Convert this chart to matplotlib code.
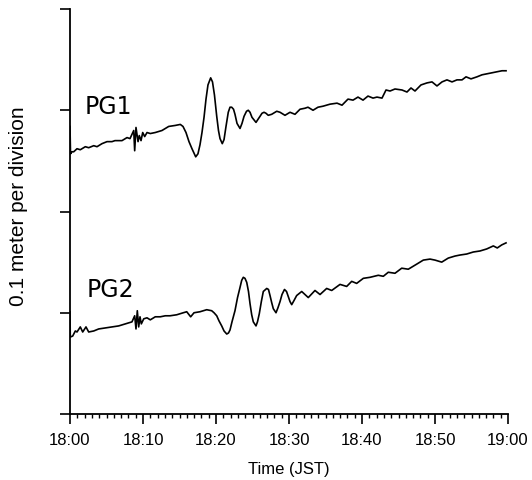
import matplotlib
matplotlib.use("Agg")
import matplotlib.pyplot as plt
from matplotlib.ticker import MultipleLocator, FixedLocator, FixedFormatter

# minutes after 18:00 JST, sea level (m, offset for display)
pg1_t = [0, 0.07, 0.27, 0.51, 0.96, 1.41, 2.10, 2.56, 3.25, 3.70, 4.38, 5.07, 5.75, 6.16,
         7.12, 7.81, 8.22, 8.73, 8.86, 9.04, 9.32, 9.49, 9.73, 9.96, 10.23, 10.55, 11.0,
         11.68, 12.60, 13.52, 14.42, 15.11, 15.48, 15.89, 16.30, 16.71, 17.22, 17.53,
         17.81, 18.08, 18.36, 18.63, 18.90, 19.27, 19.52, 19.79, 20.10, 20.34, 20.55,
         20.86, 21.10, 21.37, 21.68, 21.92, 22.15, 22.40, 22.60, 22.88, 23.29, 23.56,
         23.84, 24.18, 24.42, 24.66, 24.93, 25.48, 25.75, 26.03, 26.30, 26.58, 26.85,
         27.16, 27.63, 28.32,
         28.77, 29.45, 30.14, 30.82, 31.51, 32.19, 32.60, 33.29, 33.97, 34.66, 35.62,
         36.58, 37.26, 38.08, 38.77, 39.45, 40.14, 40.82, 41.51, 42.05, 42.74, 43.29,
         43.84, 44.52, 45.48, 46.16, 46.71, 47.26, 48.08, 48.90, 49.59, 50.27, 50.96,
         51.64, 52.33, 53.01, 53.70, 54.25, 54.93, 55.75, 56.44, 57.12, 57.81, 58.49,
         59.18, 59.73]
pg1_h = [0.284, 0.257, 0.259, 0.259, 0.262, 0.261, 0.264, 0.263, 0.265, 0.264, 0.267, 0.269,
         0.269, 0.270, 0.270, 0.273, 0.272, 0.280, 0.260, 0.283, 0.269, 0.275, 0.270, 0.278,
         0.274, 0.278, 0.277, 0.278, 0.280, 0.284, 0.285, 0.286, 0.284, 0.278, 0.269,
         0.262, 0.254, 0.257, 0.266, 0.278, 0.293, 0.311, 0.325, 0.332, 0.328, 0.315,
         0.294, 0.280, 0.272, 0.267, 0.271, 0.284, 0.298, 0.303, 0.303, 0.301, 0.296,
         0.287, 0.282, 0.287, 0.294, 0.299, 0.300, 0.298, 0.293, 0.288, 0.291, 0.294,
         0.297, 0.298, 0.297, 0.295, 0.296, 0.299,
         0.298, 0.295, 0.298, 0.296, 0.301, 0.302, 0.303, 0.300, 0.303, 0.304, 0.306, 0.307,
         0.305, 0.311, 0.310, 0.313, 0.310, 0.314, 0.312, 0.313, 0.312, 0.320, 0.319, 0.321,
         0.320, 0.318, 0.322, 0.319, 0.325, 0.327, 0.328, 0.324, 0.328, 0.330, 0.328, 0.330,
         0.330, 0.333, 0.331, 0.333, 0.335, 0.336, 0.337, 0.338, 0.339, 0.339]

pg2_t = [0, 0.04, 0.37, 0.73, 0.96, 1.41, 1.74, 2.19, 2.56, 3.25, 3.93, 4.84, 5.75, 6.67,
         7.58, 8.49, 8.86, 9.04, 9.22, 9.41, 9.59, 9.77, 10.10, 10.55, 11.0, 11.68, 12.37,
         13.05, 13.70, 14.62, 15.52, 15.99, 16.53, 16.99, 17.81, 18.73, 19.41, 19.73,
         20.10, 20.41, 20.78, 21.10, 21.47, 21.71, 21.92, 22.19, 22.60, 22.95, 23.29,
         23.52, 23.74, 23.97, 24.21, 24.45, 24.66, 24.89, 25.11, 25.48, 25.68, 25.93,
         26.21, 26.48, 26.95, 27.19, 27.40, 27.63, 27.85, 28.22, 28.49, 28.77, 29.04,
         29.38, 29.66, 29.90, 30.14, 30.37, 30.68, 31.05, 31.74, 32.64, 33.56, 34.25,
         35.16, 35.85, 36.99, 37.90, 38.59, 39.27, 40.18, 41.10, 42.23, 42.92, 43.60, 44.52,
         45.44, 46.34, 47.49, 48.40, 49.32, 50.0, 50.92, 51.82, 52.74, 53.42, 54.34, 55.25,
         56.16, 57.08, 57.99, 58.53, 59.14, 59.73]
pg2_h = [0.101, 0.076, 0.077, 0.082, 0.081, 0.086, 0.081, 0.086, 0.081, 0.082, 0.084, 0.085,
         0.086, 0.087, 0.089, 0.091, 0.097, 0.084, 0.102, 0.086, 0.096, 0.089, 0.094, 0.095,
         0.093, 0.096, 0.096, 0.097, 0.097, 0.098, 0.100, 0.101, 0.096, 0.100, 0.101, 0.103,
         0.102, 0.100, 0.097, 0.092, 0.087, 0.082, 0.079, 0.080, 0.083, 0.091, 0.102,
         0.115, 0.125, 0.132, 0.135, 0.134, 0.130, 0.121, 0.109, 0.098, 0.091, 0.087,
         0.091, 0.099, 0.111, 0.121, 0.124, 0.123, 0.117, 0.110, 0.104, 0.100, 0.105,
         0.111, 0.118, 0.123, 0.121, 0.116, 0.111, 0.108, 0.112, 0.117, 0.121,
         0.115, 0.122, 0.118, 0.124, 0.122, 0.128, 0.126, 0.131, 0.129, 0.134, 0.135, 0.137,
         0.136, 0.140, 0.139, 0.144, 0.143, 0.148, 0.152, 0.153, 0.152, 0.150, 0.154, 0.156,
         0.157, 0.158, 0.160, 0.161, 0.163, 0.166, 0.164, 0.167, 0.169]

major_ticks = [0, 10, 20, 30, 40, 50, 60]
major_labels = ["18:00", "18:10", "18:20", "18:30", "18:40", "18:50", "19:00"]
y_ticks = [0, 0.1, 0.2, 0.3, 0.4]

fig = plt.figure(figsize=(5.32, 4.81), dpi=100)
ax = fig.add_axes([70 / 532, 1 - 415 / 481, 438 / 532, 405 / 481])

ax.plot(pg1_t, pg1_h, color="black", lw=1.2)
ax.plot(pg2_t, pg2_h, color="black", lw=1.2)

ax.text(2.05, 0.297, "PG1", fontsize=17, family="DejaVu Sans", va="baseline")
ax.text(2.33, 0.1165, "PG2", fontsize=17, family="DejaVu Sans", va="baseline")

ax.set_xlim(0, 60)
ax.set_ylim(0, 0.4)
ax.spines["top"].set_visible(False)
ax.spines["right"].set_visible(False)
for s in ("left", "bottom"):
    ax.spines[s].set_linewidth(1.3)

ax.xaxis.set_major_locator(FixedLocator(major_ticks))
ax.xaxis.set_major_formatter(FixedFormatter(major_labels))
ax.xaxis.set_minor_locator(MultipleLocator(1))
ax.set_yticks(y_ticks)
ax.set_yticklabels([])
ax.tick_params(axis="both", which="major", length=7, width=1.2, direction="out")
ax.tick_params(axis="x", which="minor", length=3, width=1.0, direction="out")
for lab in ax.get_xticklabels():
    lab.set_family("Liberation Sans")
    lab.set_fontsize(12)
ax.tick_params(axis="x", pad=6)

ax.set_xlabel("Time (JST)", family="Liberation Sans", fontsize=12, labelpad=10)
ax.set_ylabel("0.1 meter per division", family="Liberation Sans", fontsize=15)
ax.yaxis.set_label_coords(-0.097, 0.516)

fig.savefig("out.png", dpi=100)
